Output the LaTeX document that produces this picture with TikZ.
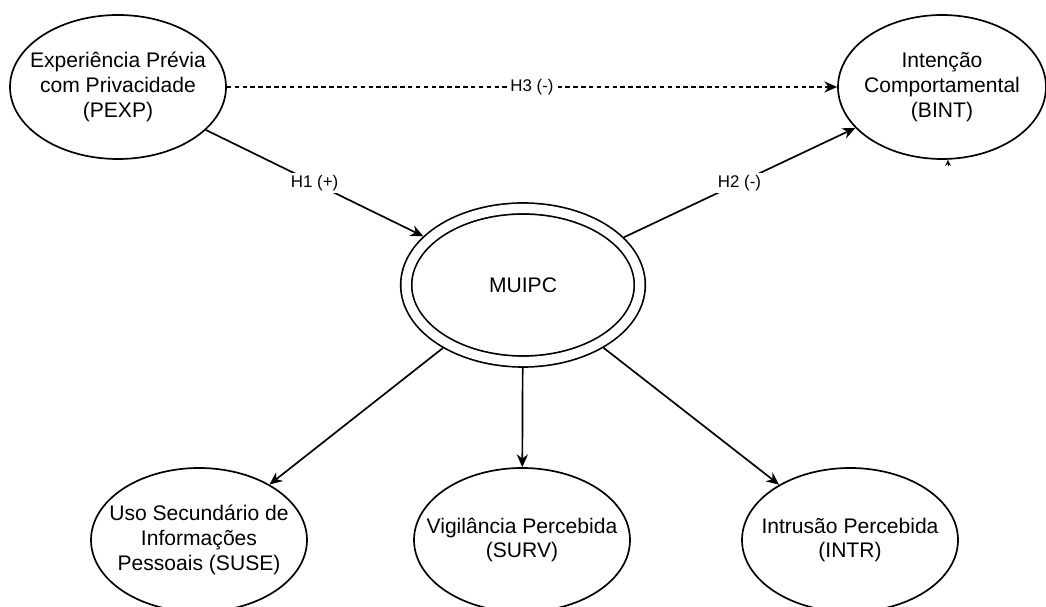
\documentclass[tikz,border=0pt]{standalone}
\usepackage{fontspec}
\setmainfont{Liberation Sans}
\usepackage{tikz}
\usetikzlibrary{arrows.meta,shapes.geometric}
\definecolor{INK}{HTML}{000000}

\begin{document}
\begin{tikzpicture}[
    font=\fontsize{15}{17.7}\selectfont,
    var/.style={ellipse, draw=INK, line width=1.2pt, fill=white, minimum width=5.4cm, minimum height=3.6cm, inner xsep=-1cm, inner ysep=0pt, align=center, text=INK},
    core/.style={var, double, double distance=6.6pt, minimum width=5.84cm, minimum height=3.825cm, outer sep=4.5pt},
    arr/.style={-{Stealth[length=3.2mm, width=2.8mm]}, INK, line width=1.2pt},
    hyp/.style={fill=white, inner sep=1.5pt, font=\fontsize{12}{14}\selectfont, text=INK},
  ]
  \useasboundingbox (0,0) rectangle (26.15,15.15);

  % ===== top row =====
  \node[var] (pexp) at (2.95, 12.975) {Experiência Prévia\\com Privacidade\\(PEXP)};
  \node[var, minimum width=5.2cm] (bint) at (23.55, 12.975) {Intenção\\Comportamental\\(BINT)};

  % ===== centre =====
  \node[core] (muipc) at (13.075, 8.025) {MUIPC};

  % ===== dimensions =====
  \node[var] (suse) at (4.975, 1.65) {Uso Secundário de\\Informações\\Pessoais (SUSE)};
  \node[var] (surv) at (13.05, 1.65) {Vigilância Percebida\\(SURV)};
  \node[var] (intr) at (21.25, 1.65) {Intrusão Percebida\\(INTR)};

  % hypotheses
  \draw[arr, dash pattern=on 3.2pt off 2.4pt] (pexp) -- node[hyp] {H3 (-)} (bint);
  \draw[arr] (pexp) -- node[hyp] {H1 (+)} (muipc);
  \draw[arr] (muipc) -- node[hyp] {H2 (-)} (bint);

  % MUIPC to its dimensions
  \draw[arr] (muipc) -- (suse);
  \draw[arr] (muipc) -- (surv);
  \draw[arr] (muipc) -- (intr);

  % small tip under BINT
  \coordinate (stub) at ([xshift=0.15cm, yshift=-0.15cm]bint.south);
  \draw[-{Stealth[length=1.5mm, width=1.4mm]}, INK, line width=0.4pt] (stub) -- ([xshift=0.15cm]bint.south);

\end{tikzpicture}
\end{document}
